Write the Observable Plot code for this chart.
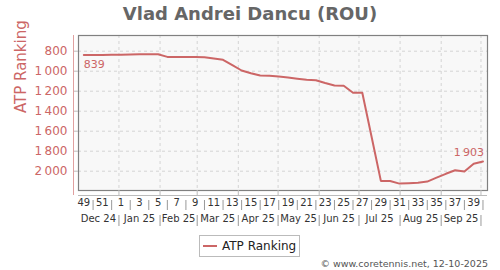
<!DOCTYPE html>
<html>
<head>
<meta charset="utf-8">
<script src="https://cdn.jsdelivr.net/npm/d3@7"></script>
<script src="https://cdn.jsdelivr.net/npm/@observablehq/plot@0.6"></script>
<style>
  html, body { margin: 0; padding: 0; background: #fff; }
  #wrap { position: relative; width: 500px; height: 270px; font-family: "DejaVu Sans", sans-serif; overflow: hidden; }
  #title { position: absolute; left: 0; top: 0; width: 500px; height: 28px; line-height: 28px; text-align: center;
           font-size: 18px; font-weight: bold; color: #666; }
  #chart { position: absolute; left: 0; top: 28px; }
  #legend { position: absolute; left: 199px; top: 235px; width: 99px; height: 20px; border: 1px solid #bbb;
            background: #fff; display: flex; align-items: center; font-size: 12px; color: #222; }
  #legend .sw { width: 14px; height: 2px; background: #cc6666; margin: 0 5px 0 3px; }
  #caption { position: absolute; right: 12px; top: 258px; font-size: 9.5px; line-height: 12px; color: #555; }
</style>
</head>
<body>
<div id="wrap">
  <div id="title">Vlad Andrei Dancu (ROU)</div>
  <div id="chart"></div>
  <div id="legend"><span class="sw"></span><span>ATP Ranking</span></div>
  <div id="caption">© www.coretennis.net, 12-10-2025</div>
</div>
<script>
// ---- data ----
const weeks = [49, 50, 51, 52, 1, 2, 3, 4, 5, 6, 7, 8, 9, 10, 11, 12, 13, 14, 15, 16, 17, 18, 19, 20,
               21, 22, 23, 24, 25, 26, 27, 28, 29, 30, 31, 32, 33, 34, 35, 36, 37, 38, 39, 40];
const dates = ["2024-12-05", "2024-12-12", "2024-12-19", "2024-12-26",
               "2025-01-02", "2025-01-09", "2025-01-16", "2025-01-23", "2025-01-30",
               "2025-02-06", "2025-02-13", "2025-02-20", "2025-02-27",
               "2025-03-06", "2025-03-13", "2025-03-20", "2025-03-27",
               "2025-04-03", "2025-04-10", "2025-04-17", "2025-04-24",
               "2025-05-01", "2025-05-08", "2025-05-15", "2025-05-22", "2025-05-29",
               "2025-06-05", "2025-06-12", "2025-06-19", "2025-06-26",
               "2025-07-03", "2025-07-10", "2025-07-17", "2025-07-24", "2025-07-31",
               "2025-08-07", "2025-08-14", "2025-08-21", "2025-08-28",
               "2025-09-04", "2025-09-11", "2025-09-18", "2025-09-25",
               "2025-10-02"];
const ranking = [839, 838, 837, 836, 835, 832, 831, 831, 831, 857, 858, 858, 858, 860, 872, 886,
                 940, 993, 1020, 1043, 1045, 1053, 1062, 1075, 1086, 1090, 1118, 1143, 1146,
                 1216, 1216, 1656, 2097, 2098, 2124, 2121, 2116, 2104, 2065, 2026, 1990, 2003,
                 1926, 1903];
const yTicks = [800, 1000, 1200, 1400, 1600, 1800, 2000];
const monthLabels = ["Dec 24", "Jan 25", "Feb 25", "Mar 25", "Apr 25", "May 25", "Jun 25",
                     "Jul 25", "Aug 25", "Sep 25"];
const monthStarts = ["2024-12-01", "2025-01-01", "2025-02-01", "2025-03-01", "2025-04-01",
                     "2025-05-01", "2025-06-01", "2025-07-01", "2025-08-01", "2025-09-01"];
const seriesName = "ATP Ranking";

// ---- build ----
const rose = "#cc6666";
const parseNoon = s => new Date(s + "T12:00:00Z");
const parseDay = s => new Date(s + "T00:00:00Z");
const data = dates.map((d, i) => ({date: parseNoon(d), week: weeks[i], rank: ranking[i]}));
const months = monthStarts.map((s, i) => {
  const start = parseDay(s);
  const end = d3.utcMonth.offset(start, 1);
  return {label: monthLabels[i], start, end, mid: new Date((+start + +end) / 2)};
});
const boundaries = months.map(m => m.end);            // Jan 1 .. Oct 1
const oddWeeks = data.filter(d => d.week % 2 === 1);
const evenWeeks = data.filter(d => d.week % 2 === 0);
const fmt = v => d3.format(",")(v).replace(",", "\u2009");

const W = 500, H = 202, mL = 78, mR = 13, mT = 7, mB = 40;
const frameW = W - mL - mR;
const xDomain = [new Date(Date.UTC(2024, 11, 1, 12)), new Date(Date.UTC(2025, 9, 5, 22))];
const yDomain = [643, 2193];
const first = data[0], last = data[data.length - 1];

const chart = Plot.plot({
  width: W, height: H,
  marginLeft: mL, marginRight: mR, marginTop: mT, marginBottom: mB,
  style: {fontFamily: "DejaVu Sans, sans-serif", background: "transparent", overflow: "visible"},
  x: {type: "utc", domain: xDomain, axis: null},
  y: {domain: yDomain, reverse: true, axis: null},
  marks: [
    Plot.frame({fill: "#f8f8f8", stroke: null}),
    Plot.ruleY(yTicks, {stroke: "#d4d4d4", strokeDasharray: "3,3"}),
    Plot.ruleX(boundaries, {stroke: "#d4d4d4", strokeDasharray: "3,3"}),
    Plot.frame({stroke: "#808080", strokeWidth: 1.2}),
    // y axis
    Plot.ruleY(yTicks, {stroke: "#bbb", insetLeft: -5, insetRight: frameW}),
    Plot.ruleX([xDomain[0]], {dx: -5, stroke: "#e0a0a0", insetBottom: -5}),
    Plot.text(yTicks, {y: d => d, text: fmt, frameAnchor: "left", dx: -11, textAnchor: "end",
                       fill: rose, fontSize: 12}),
    Plot.text([seriesName], {text: d => d, frameAnchor: "left", dx: -57, rotate: -90,
                             fill: rose, fontSize: 15}),
    // x axis
    Plot.ruleY([yDomain[1]], {dy: 5, stroke: "#bbb"}),
    Plot.ruleX(boundaries, {stroke: "#bbb", insetTop: 155, insetBottom: -5}),
    Plot.ruleX(evenWeeks, {x: "date", stroke: "#999", insetTop: 165, insetBottom: -20}),
    Plot.text(oddWeeks, {x: "date", text: d => String(d.week), frameAnchor: "bottom", dy: 15,
                         fill: "#333", fontSize: 10}),
    Plot.ruleX(boundaries, {stroke: "#999", insetTop: 180, insetBottom: -36}),
    Plot.text(months, {x: "mid", text: "label", frameAnchor: "bottom", dy: 31.5,
                       fill: "#333", fontSize: 10}),
    // series
    Plot.line(data, {x: "date", y: "rank", stroke: rose, strokeWidth: 2}),
    Plot.text([first], {x: "date", y: "rank", text: d => fmt(d.rank), textAnchor: "start",
                        dy: 9, dx: 0, fill: rose, fontSize: 11}),
    Plot.text([last], {x: "date", y: "rank", text: d => fmt(d.rank), textAnchor: "end",
                       dy: -9, dx: 1, fill: rose, fontSize: 11})
  ]
});
document.getElementById("chart").appendChild(chart);
</script>
</body>
</html>
